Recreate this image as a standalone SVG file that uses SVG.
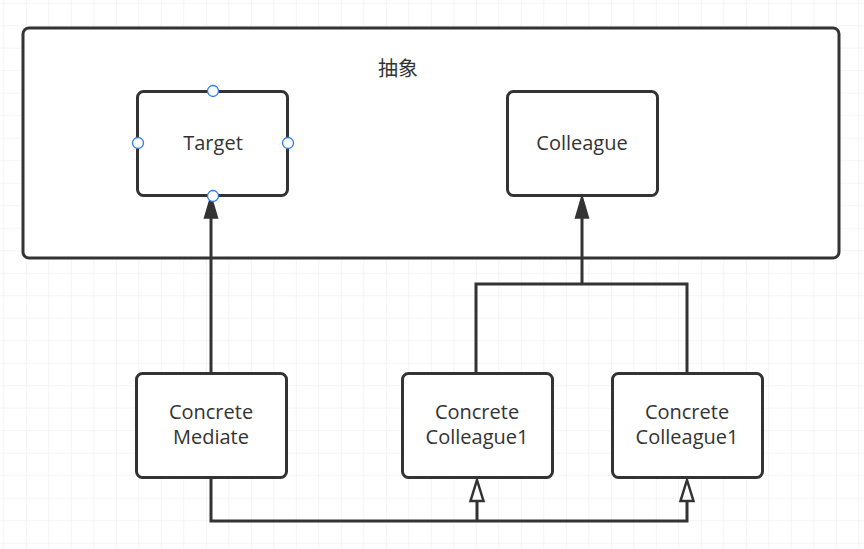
<svg xmlns="http://www.w3.org/2000/svg" width="864" height="549" viewBox="0 0 864 549">
<defs>
<pattern id="grid" x="3.3" y="2.7" width="22.5" height="22.5" patternUnits="userSpaceOnUse">
<path d="M0 0H22.5M0 0V22.5" fill="none" stroke="#ebebeb" stroke-width="1.2"/>
</pattern>
<style>
.box{fill:#fff;stroke:#333;stroke-width:3}
.lbl{font-family:"Open Sans","Noto Sans CJK SC",sans-serif;font-size:20px;fill:#333;text-anchor:middle}
.edge{fill:none;stroke:#333;stroke-width:3}
.head{fill:#333;stroke:#333;stroke-width:1.5}
.hollow{fill:#fff;stroke:#333;stroke-width:2.5}
.handle{fill:#fff;stroke:#2b7bef;stroke-width:1.3}
</style>
</defs>
<rect width="864" height="549" fill="#fff"/>
<rect width="864" height="549" fill="url(#grid)"/>
<g id="abstract">
<rect class="box" x="23" y="28" width="816" height="230" rx="6"/>
<text class="lbl" x="398" y="76">抽象</text>
</g>
<g id="target">
<rect class="box" x="137.5" y="91.5" width="150" height="104" rx="6"/>
<text class="lbl" x="213" y="150">Target</text>
</g>
<g id="colleague">
<rect class="box" x="507.5" y="91.5" width="150" height="104" rx="6"/>
<text class="lbl" x="582" y="150">Colleague</text>
</g>
<g id="concrete-mediate">
<rect class="box" x="136.5" y="373.5" width="150" height="104" rx="6"/>
<text class="lbl" x="211" y="419">Concrete</text>
<text class="lbl" x="211" y="444">Mediate</text>
</g>
<g id="concrete-colleague1-a">
<rect class="box" x="402.5" y="373.5" width="150" height="104" rx="6"/>
<text class="lbl" x="477" y="419">Concrete</text>
<text class="lbl" x="477" y="444">Colleague1</text>
</g>
<g id="concrete-colleague1-b">
<rect class="box" x="612.5" y="373.5" width="150" height="104" rx="6"/>
<text class="lbl" x="687" y="419">Concrete</text>
<text class="lbl" x="687" y="444">Colleague1</text>
</g>
<g id="connectors">
<path class="edge" d="M211 373V218"/>
<path class="head" d="M211 196L217.5 218H204.5Z"/>
<path class="edge" d="M476 373V284H687V373M582 284V218"/>
<path class="head" d="M582 196L588.5 218H575.5Z"/>
<path class="edge" d="M211 478V521H687V501M477 521V501"/>
<path class="hollow" d="M477 480L483.5 501H470.5Z"/>
<path class="hollow" d="M687 480L693.5 501H680.5Z"/>
</g>
<g id="handles">
<circle class="handle" cx="213" cy="91" r="5.5"/>
<circle class="handle" cx="138" cy="143" r="5.5"/>
<circle class="handle" cx="288" cy="143" r="5.5"/>
<circle class="handle" cx="213" cy="196" r="5.5"/>
</g>
</svg>
